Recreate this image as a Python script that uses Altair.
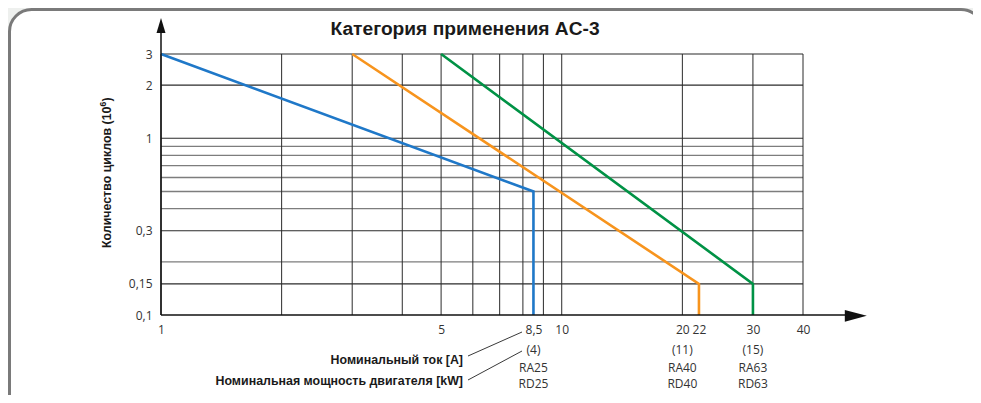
import altair as alt
import pandas as pd

# ---- data ----
series = ["RA25", "RA40", "RA63"]
colors = ["#1f78c8", "#f7941d", "#009245"]
line_x = [[1, 8.5, 8.5], [3, 22, 22], [5, 30, 30]]
line_y = [[3, 0.5, 0.1], [3, 0.15, 0.1], [3, 0.15, 0.1]]

x_ticks = [1, 5, 8.5, 10, 20, 22, 30, 40]
y_ticks = [0.1, 0.15, 0.3, 1, 2, 3]
x_grid = [1, 2, 3, 4, 5, 6, 7, 8, 9, 10, 20, 30, 40]
y_grid_major = [0.15, 0.3, 1, 2, 3]
y_grid_minor = [0.2, 0.4, 0.5, 0.6, 0.7, 0.8, 0.9]

label_at = [8.5, 20, 30]
power_kw = ["(4)", "(11)", "(15)"]
ra_names = ["RA25", "RA40", "RA63"]
rd_names = ["RD25", "RD40", "RD63"]

title_text = "Категория применения AC-3"
y_title_main = "Количество циклов (10"
y_title_sup = "6"
y_title_end = ")"
lbl_current = "Номинальный ток [A]"
lbl_power = "Номинальная мощность двигателя [kW]"

X0, X1 = 1, 40
Y0, Y1 = 0.1, 3
W, H = 642, 261

rows = []
for s, xs_, ys_ in zip(series, line_x, line_y):
    for i, (xv, yv) in enumerate(zip(xs_, ys_)):
        rows.append({"series": s, "x": xv, "y": yv, "order": i})
lines_df = pd.DataFrame(rows)

xs = alt.Scale(type="log", domain=[X0, X1], nice=False, zero=False)
ys = alt.Scale(type="log", domain=[Y0, Y1], nice=False, zero=False)

LABEL_FONT = "Open Sans"
BOLD_FONT = "Liberation Sans"
BOLD_SIZE = 12.4

label_expr = "replace(toString(datum.value), '.', ',')"
x_axis = alt.Axis(values=x_ticks, labelExpr=label_expr, ticks=False, domain=False, grid=False,
                  labelOverlap=False, labelFlush=False, labelPadding=9, title=None, zindex=2,
                  labelFont=LABEL_FONT, labelFontSize=12, labelColor="#333")
y_axis = alt.Axis(values=y_ticks, labelExpr=label_expr, ticks=False, domain=False, grid=False,
                  labelOverlap=False, labelFlush=False, labelPadding=9, title=None, zindex=2,
                  labelFont=LABEL_FONT, labelFontSize=12, labelColor="#333")


def X(f):
    return alt.X(f, scale=xs, axis=x_axis, title=None)


def Y(f):
    return alt.Y(f, scale=ys, axis=y_axis, title=None)


one = pd.DataFrame({"a": [0]})

# frame
frame = alt.Chart(one).mark_rect(
    fill="white", stroke="#7a7a7a", strokeWidth=3, cornerRadius=22
).encode(x=alt.value(-151.5), x2=alt.value(822), y=alt.value(-44.5), y2=alt.value(366))

vgrid = alt.Chart(pd.DataFrame({"x": x_grid, "y0": Y0, "y1": Y1})).mark_rule(
    color="#2b2b2b", strokeWidth=1
).encode(x=X("x:Q"), y=Y("y0:Q"), y2="y1:Q")

hgrid_minor = alt.Chart(pd.DataFrame({"y": y_grid_minor, "x0": X0, "x1": X1})).mark_rule(
    color="#7d7d7d", strokeWidth=1.3
).encode(y=Y("y:Q"), x=X("x0:Q"), x2="x1:Q")

hgrid_major = alt.Chart(pd.DataFrame({"y": y_grid_major, "x0": X0, "x1": X1})).mark_rule(
    color="#2b2b2b", strokeWidth=1.1
).encode(y=Y("y:Q"), x=X("x0:Q"), x2="x1:Q")

# axis lines with extensions
yaxis_line = alt.Chart(one).mark_rule(color="#111", strokeWidth=1.5).encode(
    x=alt.value(0), y=alt.value(-26), y2=alt.value(H)
)
xaxis_line = alt.Chart(one).mark_rule(color="#111", strokeWidth=1.5).encode(
    x=alt.value(0), x2=alt.value(690), y=alt.value(H)
)
y_arrow = alt.Chart(one).mark_point(
    shape="M0,-1L0.6,1L-0.6,1Z", size=225, filled=True, color="#111", opacity=1
).encode(x=alt.value(0), y=alt.value(-28.5))
x_arrow = alt.Chart(one).mark_point(
    shape="M1,0L-1,0.53L-1,-0.53Z", size=484, filled=True, color="#111", opacity=1
).encode(x=alt.value(694.8), y=alt.value(H + 0.8))

lines = alt.Chart(lines_df).mark_line(strokeWidth=2.6, strokeJoin="miter").encode(
    x=X("x:Q"),
    y=Y("y:Q"),
    color=alt.Color("series:N", scale=alt.Scale(domain=series, range=colors), legend=None),
    order="order:Q",
)

lab_df = pd.DataFrame({"x": label_at, "kw": power_kw, "ra": ra_names, "rd": rd_names})


def lab(field, ypix):
    return alt.Chart(lab_df).mark_text(
        font=LABEL_FONT, fontSize=12, color="#333", align="center", baseline="middle"
    ).encode(x=X("x:Q"), y=alt.value(ypix), text=f"{field}:N")


def txt(s, x, y, size, align="center", angle=0, color="#1a1a1a"):
    props = dict(font=BOLD_FONT, fontSize=size, fontWeight="bold", color=color,
                 align=align, baseline="middle")
    if angle:
        props["angle"] = angle
    return alt.Chart(pd.DataFrame({"t": [s]})).mark_text(**props).encode(
        x=alt.value(x), y=alt.value(y), text="t:N")


title = txt(title_text, 304, -25, 19.2)

# rotated y title: runs upward, ends at view y ~52
yt_main = txt(y_title_main, -54.5, 52.5, BOLD_SIZE, align="right", angle=270)
yt_sup = txt(y_title_sup, -58.5, 52.5, 8.5, align="left", angle=270)
yt_end = txt(y_title_end, -54.5, 47.5, BOLD_SIZE, align="left", angle=270)

side1 = txt(lbl_current, 302, 306, BOLD_SIZE, align="right")
side2 = txt(lbl_power, 302, 327, BOLD_SIZE, align="right")

conn1 = alt.Chart(one).mark_rule(color="#222", strokeWidth=0.9).encode(
    x=alt.value(307), y=alt.value(302), x2=alt.value(361), y2=alt.value(278)
)
conn2 = alt.Chart(one).mark_rule(color="#222", strokeWidth=0.9).encode(
    x=alt.value(307), y=alt.value(326), x2=alt.value(361), y2=alt.value(297)
)

chart = alt.layer(
    frame, hgrid_minor, hgrid_major, vgrid, lines, yaxis_line, xaxis_line, y_arrow, x_arrow,
    lab("kw", 296), lab("ra", 313.5), lab("rd", 329.5),
    title, yt_main, yt_sup, yt_end, side1, side2, conn1, conn2,
).properties(
    width=W, height=H,
    autosize=alt.AutoSizeParams(type="none"),
    padding={"left": 153, "top": 46, "right": 170, "bottom": 80},
    background="#eef0ee",
).configure_view(stroke=None)

chart.save("out.html", embed_options={"renderer": "svg", "actions": False})
